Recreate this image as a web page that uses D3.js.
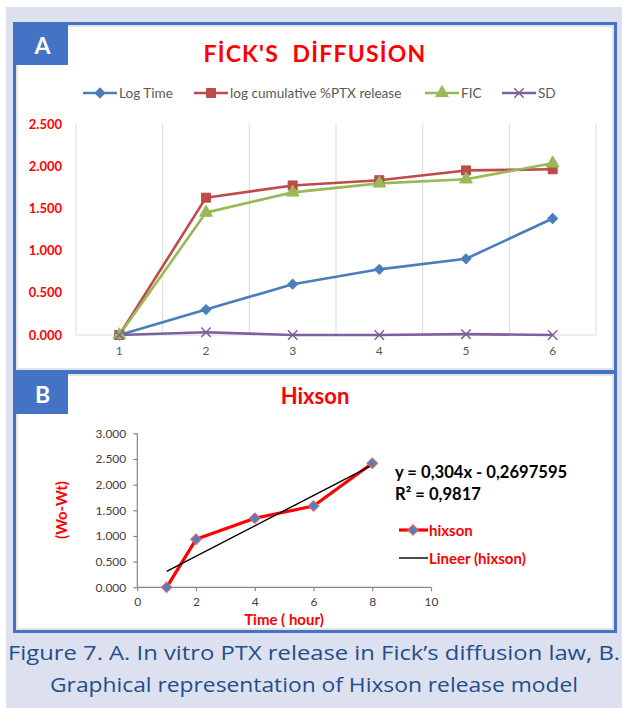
<!DOCTYPE html>
<html>
<head>
<meta charset="utf-8">
<script src="https://cdn.jsdelivr.net/npm/d3@7"></script>
<style>
  html, body { margin: 0; padding: 0; background: #ffffff; }
  svg { display: block; }
  text { font-family: Lato, "Open Sans", sans-serif; }
  text.caption { font-family: "Open Sans", sans-serif; }
</style>
</head>
<body>
<svg id="fig" width="622" height="708"></svg>
<script>
// ---- Panel A: Fick's diffusion ----
const categories = [1, 2, 3, 4, 5, 6];
const logTime = [0, 0.301, 0.602, 0.778, 0.903, 1.380];
const logCumRelease = [0, 1.627, 1.772, 1.834, 1.950, 1.963];
const ficValues = [0, 1.450, 1.690, 1.797, 1.845, 2.034];
const sdValues = [0, 0.032, 0, 0, 0.010, 0];
const yTicksA = [0, 0.5, 1.0, 1.5, 2.0, 2.5];
const seriesNamesA = ["Log Time", "log cumulative %PTX release", "FIC", "SD"];

// ---- Panel B: Hixson model ----
const hixsonTime = [1, 2, 4, 6, 8];
const hixsonValue = [0, 0.935, 1.344, 1.584, 2.416];
const yTicksB = [0, 0.5, 1.0, 1.5, 2.0, 2.5, 3.0];
const xTicksB = [0, 2, 4, 6, 8, 10];
const equationText = "y = 0,304x - 0,2697595";
const r2Text = "R² = 0,9817";

const svg = d3.select("#fig");
const fmt = d3.format(".3f");

// page background
svg.append("rect").attr("x", 6).attr("y", 7).attr("width", 616).attr("height", 701).attr("fill", "#dde1ef");

// panel frames
function panelFrame(x, y, w, h, letter) {
  svg.append("rect").attr("x", x).attr("y", y).attr("width", w).attr("height", h)
    .attr("fill", "#ffffff");
  // soft inner shadow
  svg.append("rect").attr("x", x + 2.5).attr("y", y + 2.5).attr("width", w - 5).attr("height", h - 5)
    .attr("fill", "none").attr("stroke", "#c8c8c8").attr("stroke-width", 1);
  svg.append("rect").attr("x", x).attr("y", y).attr("width", w).attr("height", h)
    .attr("fill", "none").attr("stroke", "#4472c4").attr("stroke-width", 3);
  svg.append("rect").attr("x", x + 1.5).attr("y", y + 1.5).attr("width", 52).attr("height", 40)
    .attr("fill", "#4472c4");
  svg.append("text").attr("x", x + 28).attr("y", y + 30).attr("text-anchor", "middle")
    .attr("fill", "#ffffff").attr("font-weight", 700).attr("font-size", 23).text(letter);
}
panelFrame(14.5, 23.5, 601, 348, "A");
panelFrame(14.5, 372.5, 601, 259, "B");

// diamond marker: a square turned 45 degrees
const diamondPath = side => d3.symbol().type(d3.symbolSquare).size(side * side)();

// ================= Panel A =================
const xA = d3.scaleBand().domain(categories).range([76, 596]).padding(0);
const yA = d3.scaleLinear().domain([0, 2.5]).range([335, 124]);
const cx = d => xA(d) + xA.bandwidth() / 2;

svg.append("text").attr("x", 315).attr("y", 62).attr("text-anchor", "middle")
  .attr("fill", "#ff0000").attr("font-weight", 700).attr("font-size", 23)
  .attr("letter-spacing", 1.2).style("white-space", "pre").text("FİCK'S  DİFFUSİON");

// vertical gridlines at category boundaries
const gA = svg.append("g");
const bounds = categories.map(c => xA(c)).concat([xA(categories[categories.length - 1]) + xA.bandwidth()]);
gA.selectAll("line.grid").data(bounds).join("line")
  .attr("x1", d => d).attr("x2", d => d).attr("y1", yA(2.5)).attr("y2", yA(0))
  .attr("stroke", "#d9d9d9").attr("stroke-width", 1);
gA.append("line").attr("x1", 76).attr("x2", 596).attr("y1", yA(0)).attr("y2", yA(0))
  .attr("stroke", "#d9d9d9").attr("stroke-width", 1);

// y axis labels
const yAxisA = d3.axisLeft(yA).tickValues(yTicksA).tickFormat(fmt).tickSize(0).tickPadding(0);
const yAxG = svg.append("g").attr("transform", "translate(62,0)").call(yAxisA);
yAxG.select(".domain").remove();
yAxG.selectAll("text").attr("fill", "#ff0000").attr("font-weight", 700).attr("font-size", 13);

// x axis labels
const xAxisA = d3.axisBottom(xA).tickSize(0).tickPadding(0);
const xAxG = svg.append("g").attr("transform", "translate(0,346)").call(xAxisA);
xAxG.select(".domain").remove();
xAxG.selectAll("text").attr("fill", "#595959").attr("font-size", 12);

const colorsA = ["#4a7ebb", "#be4b48", "#98b954", "#7d60a0"];
const dataA = [logTime, logCumRelease, ficValues, sdValues];

const lineA = d3.line().x((d, i) => cx(categories[i])).y(d => yA(d));

function drawMarker(g, idx, x, y) {
  let p;
  if (idx === 0) {
    p = g.append("path").attr("d", diamondPath(7)).attr("transform", `translate(${x},${y}) rotate(45)`);
  } else if (idx === 1) {
    p = g.append("path").attr("d", diamondPath(9)).attr("transform", `translate(${x},${y})`);
  } else if (idx === 2) {
    p = g.append("path").attr("d", d3.symbol().type(d3.symbolTriangle).size(70)())
      .attr("transform", `translate(${x},${y})`);
  } else {
    p = g.append("path").attr("d", d3.symbol().type(d3.symbolX).size(60)())
      .attr("transform", `translate(${x},${y})`);
  }
  if (idx === 3) p.attr("fill", "none").attr("stroke", colorsA[idx]).attr("stroke-width", 1.5);
  else p.attr("fill", colorsA[idx]).attr("stroke", colorsA[idx]).attr("stroke-width", 1);
}

dataA.forEach((vals, k) => {
  svg.append("path").datum(vals).attr("d", lineA).attr("fill", "none")
    .attr("stroke", colorsA[k]).attr("stroke-width", 2.6).attr("stroke-linejoin", "round");
});
// markers drawn after lines so they sit on top
dataA.forEach((vals, k) => {
  const g = svg.append("g");
  vals.forEach((v, i) => drawMarker(g, k, cx(categories[i]), yA(v)));
});

// legend A
const legendA = [
  { x: 83, tx: 119 },
  { x: 194, tx: 230 },
  { x: 425, tx: 461 },
  { x: 502, tx: 538 }
];
legendA.forEach((l, k) => {
  const g = svg.append("g");
  g.append("line").attr("x1", l.x).attr("x2", l.x + 34).attr("y1", 93).attr("y2", 93)
    .attr("stroke", colorsA[k]).attr("stroke-width", 2.6);
  drawMarker(g, k, l.x + 17, 93);
  g.append("text").attr("x", l.tx).attr("y", 97.5).attr("fill", "#595959").attr("font-size", 13.6)
    .text(seriesNamesA[k]);
});

// ================= Panel B =================
const xB = d3.scaleLinear().domain([0, 10]).range([137.3, 431]);
const yB = d3.scaleLinear().domain([0, 3]).range([587.3, 433.3]);

svg.append("text").attr("x", 315).attr("y", 404).attr("text-anchor", "middle")
  .attr("fill", "#ff0000").attr("font-weight", 700).attr("font-size", 22).text("Hixson");

const yAxisB = d3.axisLeft(yB).tickValues(yTicksB).tickFormat(fmt).tickSize(4).tickPadding(7);
const yBG = svg.append("g").attr("transform", `translate(${xB(0)},0)`).call(yAxisB);
const xAxisB = d3.axisBottom(xB).tickValues(xTicksB).tickFormat(d3.format("d")).tickSize(4).tickPadding(6);
const xBG = svg.append("g").attr("transform", `translate(0,${yB(0)})`).call(xAxisB);
[yBG, xBG].forEach(g => {
  g.select(".domain").attr("stroke", "#868686").attr("stroke-width", 1.2);
  g.selectAll(".tick line").attr("stroke", "#868686").attr("stroke-width", 1.2);
  g.selectAll("text").attr("fill", "#404040").attr("font-size", 12);
});
yBG.select(".domain").attr("d", `M0,${yB(3)}V${yB(0)}`);
xBG.select(".domain").attr("d", `M${xB(0)},0H${xB(10)}`);

// axis titles
svg.append("text").attr("transform", `translate(67,510) rotate(-90)`).attr("text-anchor", "middle")
  .attr("fill", "#ff0000").attr("font-weight", 700).attr("font-size", 15).text("(Wo-Wt)");
svg.append("text").attr("x", 284).attr("y", 625).attr("text-anchor", "middle")
  .attr("fill", "#ff0000").attr("font-weight", 700).attr("font-size", 15).text("Time ( hour)");

// data series
const lineB = d3.line().x((d, i) => xB(hixsonTime[i])).y(d => yB(d));
svg.append("path").datum(hixsonValue).attr("d", lineB).attr("fill", "none")
  .attr("stroke", "#ff0000").attr("stroke-width", 3.2).attr("stroke-linejoin", "round");

// least-squares trend line of the series
const mx = d3.mean(hixsonTime), my = d3.mean(hixsonValue);
const sxy = d3.sum(hixsonTime, (t, i) => (t - mx) * (hixsonValue[i] - my));
const sxx = d3.sum(hixsonTime, t => (t - mx) * (t - mx));
const slope = sxy / sxx, icpt = my - slope * mx;
const tMin = d3.min(hixsonTime), tMax = d3.max(hixsonTime);
svg.append("line").attr("x1", xB(tMin)).attr("y1", yB(slope * tMin + icpt))
  .attr("x2", xB(tMax)).attr("y2", yB(slope * tMax + icpt))
  .attr("stroke", "#000000").attr("stroke-width", 1.4);

svg.append("g").selectAll("path").data(hixsonValue).join("path")
  .attr("d", diamondPath(7.5))
  .attr("transform", (d, i) => `translate(${xB(hixsonTime[i])},${yB(d)}) rotate(45)`)
  .attr("fill", "#4f81bd").attr("stroke", "#ff5a5a").attr("stroke-width", 1);

// equation text
svg.append("text").attr("x", 395).attr("y", 478).attr("fill", "#000000").attr("font-weight", 700)
  .attr("font-size", 16.6).text(equationText);
svg.append("text").attr("x", 395).attr("y", 500).attr("fill", "#000000").attr("font-weight", 700)
  .attr("font-size", 16.6).text(r2Text);

// legend B
svg.append("line").attr("x1", 399).attr("x2", 428).attr("y1", 530).attr("y2", 530)
  .attr("stroke", "#ff0000").attr("stroke-width", 3.2);
svg.append("path").attr("d", diamondPath(7.5)).attr("transform", "translate(413,530) rotate(45)")
  .attr("fill", "#4f81bd").attr("stroke", "#ff5a5a").attr("stroke-width", 1);
svg.append("text").attr("x", 429).attr("y", 536).attr("fill", "#ff0000").attr("font-weight", 700)
  .attr("font-size", 15).text("hixson");
svg.append("line").attr("x1", 399).attr("x2", 428).attr("y1", 558).attr("y2", 558)
  .attr("stroke", "#000000").attr("stroke-width", 1.4);
svg.append("text").attr("x", 429).attr("y", 564).attr("fill", "#ff0000").attr("font-weight", 700)
  .attr("font-size", 15).text("Lineer (hixson)");

// ================= Caption =================
svg.append("text").attr("class", "caption").attr("x", 314).attr("y", 660).attr("text-anchor", "middle")
  .attr("fill", "#1f4e8c").attr("font-size", 19.5)
  .attr("textLength", 612).attr("lengthAdjust", "spacingAndGlyphs")
  .text("Figure 7. A. In vitro PTX release in Fick’s diffusion law, B.");
svg.append("text").attr("class", "caption").attr("x", 314).attr("y", 692).attr("text-anchor", "middle")
  .attr("fill", "#1f4e8c").attr("font-size", 19.5)
  .attr("textLength", 528).attr("lengthAdjust", "spacingAndGlyphs")
  .text("Graphical representation of Hixson release model");
</script>
</body>
</html>
